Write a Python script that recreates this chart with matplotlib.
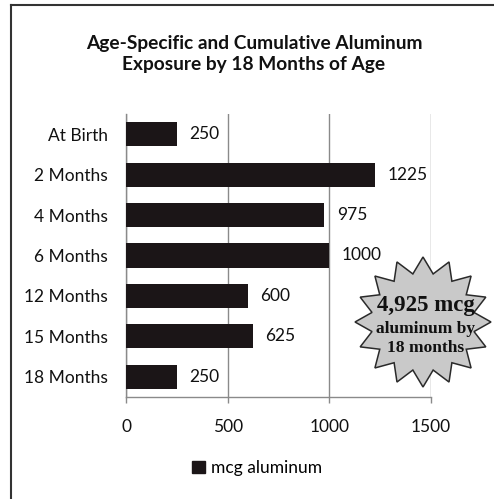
import matplotlib
matplotlib.use("Agg")
import matplotlib.pyplot as plt
import numpy as np
from matplotlib.patches import Polygon, Rectangle
from matplotlib.lines import Line2D

categories = ["At Birth", "2 Months", "4 Months", "6 Months", "12 Months", "15 Months", "18 Months"]
values = [250, 1225, 975, 1000, 600, 625, 250]
xticks = [0, 500, 1000, 1500]
series_name = "mcg aluminum"
title = "Age-Specific and Cumulative Aluminum\nExposure by 18 Months of Age"
badge_lines = ["4,925 mcg", "aluminum by", "18 months"]

W, H = 494, 499
fig = plt.figure(figsize=(W / 100, H / 100), dpi=100)
fig.patch.set_facecolor("white")
font = "Lato"

ax = fig.add_axes([126 / W, 1 - 397 / H, 305 / W, 283 / H])
y = np.arange(len(categories))
ax.barh(y, values, height=0.6, color="#1b1517", label=series_name, zorder=3)
ax.set_ylim(len(categories) - 0.5, -0.5)
ax.set_xlim(0, 1500)
ax.set_yticks(y)
ax.set_yticklabels(categories, fontfamily=font, fontsize=12.5, color="#111111")
ax.set_xticks(xticks)
ax.set_xticklabels([str(t) for t in xticks], fontfamily=font, fontsize=12.5, color="#111111")
ax.tick_params(axis="y", length=0, pad=13)
ax.tick_params(axis="x", length=4, width=1, color="#8a8a8a", pad=12)
ax.xaxis.grid(True, color="#8a8a8a", linewidth=1, zorder=0)
for s in ["top", "right"]:
    ax.spines[s].set_visible(False)
for s in ["left", "bottom"]:
    ax.spines[s].set_color("#8a8a8a")
    ax.spines[s].set_linewidth(1)

for yi, v in zip(y, values):
    ax.annotate(str(v), xy=(v, yi), xytext=(9, 0), textcoords="offset points",
                va="center", ha="left", fontfamily=font, fontsize=12.5, color="#111111")

fig.text(254 / W, 1 - 54 / H, title, ha="center", va="center", fontfamily=font,
         fontweight="bold", fontsize=13.8, color="#111111", linespacing=1.3)

fig.legend(handles=[Rectangle((0, 0), 1, 1, color="#1b1517")], labels=[series_name],
           loc="center", bbox_to_anchor=(257 / W, 1 - 468 / H), frameon=False,
           prop={"family": font, "size": 12.5}, handlelength=0.75, handleheight=0.75,
           handletextpad=0.3)

# starburst badge (figure pixel coordinates)
cx, cy = 423, 322
n = 16
ang = np.linspace(0, 2 * np.pi, 2 * n, endpoint=False) + np.pi / 2
rx = np.where(np.arange(2 * n) % 2 == 0, 68, 52)
ry = np.where(np.arange(2 * n) % 2 == 0, 65, 49)
px = cx + rx * np.cos(ang)
py = cy - ry * np.sin(ang)
pts = np.column_stack([px / W, 1 - py / H])
fig.patches.append(Polygon(pts, closed=True, transform=fig.transFigure, facecolor="#c9c9c9",
                           edgecolor="#2a2a2a", linewidth=1.1, zorder=5))
fig.text(426 / W, 1 - 306 / H, badge_lines[0], ha="center", va="center", family="Liberation Serif",
         fontweight="bold", fontsize=16.5, color="#111111", zorder=6)
fig.text(426 / W, 1 - 329 / H, badge_lines[1], ha="center", va="center", family="Liberation Serif",
         fontweight="bold", fontsize=12.5, color="#111111", zorder=6)
fig.text(426 / W, 1 - 348 / H, badge_lines[2], ha="center", va="center", family="Liberation Serif",
         fontweight="bold", fontsize=12.5, color="#111111", zorder=6)

# outer frame (left and top visible)
fig.add_artist(Line2D([11 / W, 11 / W], [0, 1 - 5 / H], transform=fig.transFigure,
                      color="#333333", linewidth=1.5))
fig.add_artist(Line2D([11 / W, 1], [1 - 5 / H, 1 - 5 / H], transform=fig.transFigure,
                      color="#333333", linewidth=1.5))

fig.savefig("out.png", dpi=100, facecolor="white")
